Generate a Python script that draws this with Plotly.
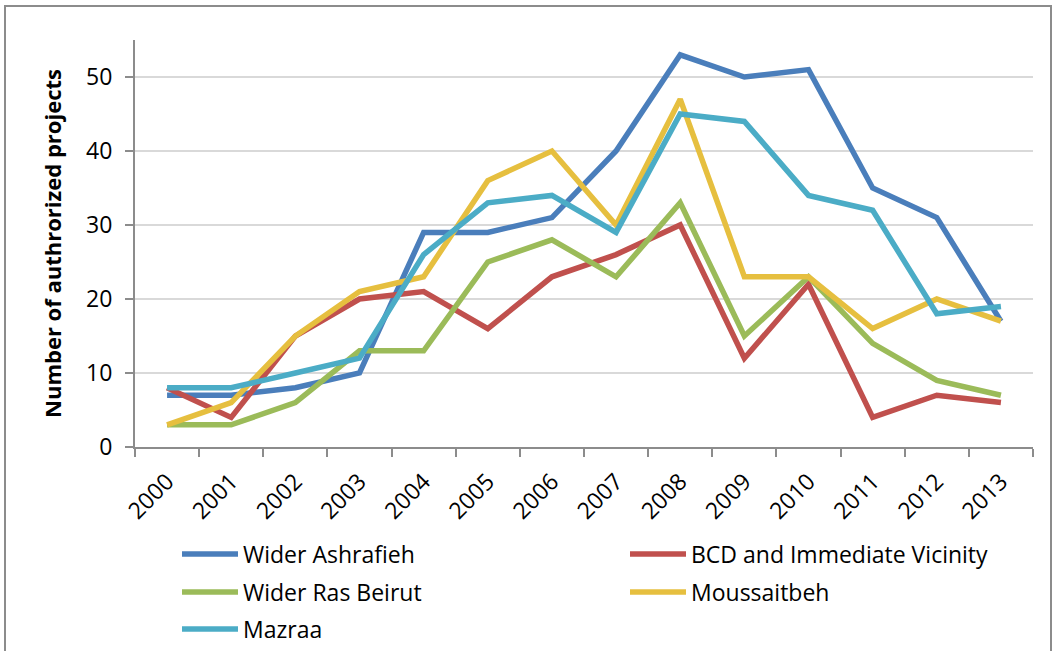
import plotly.graph_objects as go

years = [str(y) for y in range(2000, 2014)]

wider_ashrafieh = [7, 7, 8, 10, 29, 29, 31, 40, 53, 50, 51, 35, 31, 17]
bcd_vicinity = [8, 4, 15, 20, 21, 16, 23, 26, 30, 12, 22, 4, 7, 6]
wider_ras_beirut = [3, 3, 6, 13, 13, 25, 28, 23, 33, 15, 23, 14, 9, 7]
moussaitbeh = [3, 6, 15, 21, 23, 36, 40, 30, 47, 23, 23, 16, 20, 17]
mazraa = [8, 8, 10, 12, 26, 33, 34, 29, 45, 44, 34, 32, 18, 19]

# name, values, colour, legend slot (col, row) - Excel style 2-column legend
series = [
    ("Wider Ashrafieh", wider_ashrafieh, "#4A7EBB", (0, 0)),
    ("BCD and Immediate Vicinity", bcd_vicinity, "#C0504D", (1, 0)),
    ("Wider Ras Beirut", wider_ras_beirut, "#9BBB59", (0, 1)),
    ("Moussaitbeh", moussaitbeh, "#E6BF3F", (1, 1)),
    ("Mazraa", mazraa, "#4BACC6", (0, 2)),
]

FONT = "Open Sans"
AXIS_GREY = "#8C8C8C"
PLOT_W, PLOT_H = 898, 407
LEG_COL_X = [42, 490]        # px from plot left
LEG_ROW_Y = [107, 145, 182]  # px below x axis

fig = go.Figure()
legends = {}
for i, (name, vals, color, (col, row)) in enumerate(series):
    leg = "legend" if i == 0 else f"legend{i + 1}"
    fig.add_trace(go.Scatter(x=years, y=vals, name=name, mode="lines", legend=leg,
                             line=dict(color=color, width=5.5)))
    legends[leg] = dict(
        orientation="h", xanchor="left", yanchor="middle",
        x=LEG_COL_X[col] / PLOT_W, y=-LEG_ROW_Y[row] / PLOT_H,
        itemwidth=56, font=dict(family=FONT, size=23, color="black"),
        bgcolor="rgba(0,0,0,0)",
    )

fig.update_layout(
    width=1053, height=651,
    margin=dict(l=135, r=20, t=40, b=204, autoexpand=False),
    paper_bgcolor="white", plot_bgcolor="white",
    font=dict(family=FONT, size=23, color="black"),
    showlegend=True,
    **legends,
)

fig.update_xaxes(
    type="category", range=[-0.5, 13.5], tickangle=-45, automargin=False,
    tickfont=dict(family=FONT, size=23), ticklabelstandoff=10,
    showline=True, linecolor=AXIS_GREY, linewidth=2,
    ticks="outside", tickson="boundaries", ticklen=8, tickcolor=AXIS_GREY, tickwidth=2,
    showgrid=False, zeroline=False,
)
fig.update_yaxes(
    range=[0, 55], dtick=10, tick0=0, automargin=False,
    tickfont=dict(family=FONT, size=23),
    showline=True, linecolor=AXIS_GREY, linewidth=2,
    ticks="outside", ticklen=8, tickcolor=AXIS_GREY, tickwidth=2,
    ticklabelstandoff=8,
    showgrid=True, gridcolor="#D9D9D9", gridwidth=2, zeroline=False,
    title=dict(text="<b>Number of authrorized projects</b>",
               font=dict(family=FONT, size=22), standoff=18),
)

# chart-area frame
fig.add_shape(type="rect", xref="paper", yref="paper",
              x0=-130 / PLOT_W, x1=916 / PLOT_W, y0=-0.6, y1=441 / PLOT_H,
              line=dict(color=AXIS_GREY, width=2), fillcolor="rgba(0,0,0,0)", layer="below")

# drop the default 8px body margin so the figure sits at the page corner
fig.write_html("out.html", config={"displayModeBar": False},
               post_script="document.body.style.margin = '0';")
